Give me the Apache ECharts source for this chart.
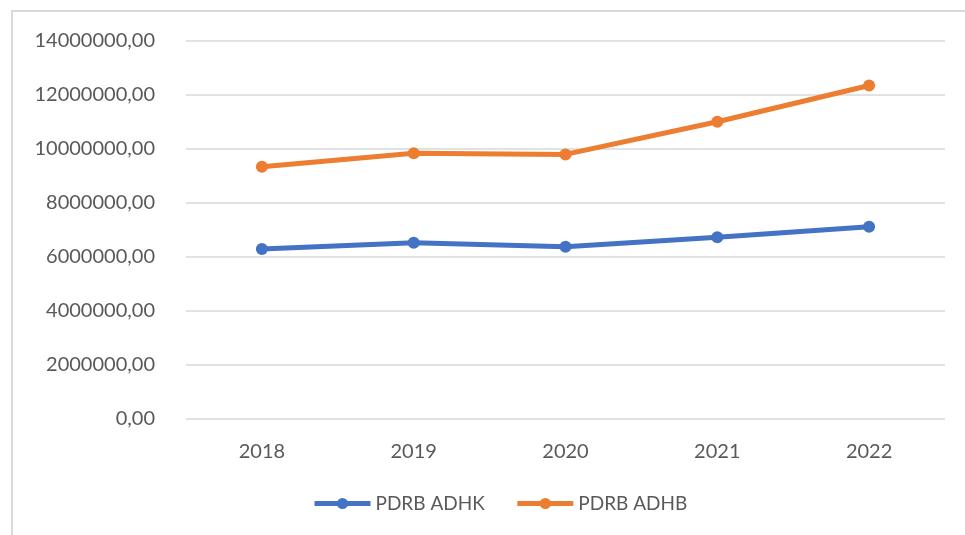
<!DOCTYPE html>
<html>
<head>
<meta charset="utf-8">
<script src="https://cdn.jsdelivr.net/npm/echarts@6/dist/echarts.min.js"></script>
<style>
  html, body { margin: 0; padding: 0; background: #ffffff; }
  #main { width: 965px; height: 535px; }
</style>
</head>
<body>
<div id="main"></div>
<script>
// data
var years = ["2018", "2019", "2020", "2021", "2022"];
var adhk = [6300000, 6530000, 6380000, 6730000, 7120000];
var adhb = [9340000, 9840000, 9800000, 11010000, 12350000];

var chart = echarts.init(document.getElementById("main"));
var font = "Lato, 'Open Sans', sans-serif";

var option = {
  animation: false,
  graphic: [{
    type: "rect",
    shape: { x: 12, y: 11, width: 1000, height: 600 },
    style: { fill: "none", stroke: "#d9d9d9", lineWidth: 2 }
  }],
  grid: { left: 186, right: 20, top: 41, bottom: 116 },
  legend: {
    bottom: 17,
    left: 307,
    itemWidth: 56,
    itemHeight: 14,
    itemGap: 30,
    lineStyle: { width: 5 },
    textStyle: { color: "#595959", fontSize: 19, fontFamily: font },
    data: ["PDRB ADHK", "PDRB ADHB"]
  },
  xAxis: {
    type: "category",
    data: years,
    axisLine: { show: false },
    axisTick: { show: false },
    axisLabel: { color: "#595959", fontSize: 20, margin: 23, fontFamily: font }
  },
  yAxis: {
    type: "value",
    min: 0,
    max: 14000000,
    interval: 2000000,
    axisLine: { show: false },
    axisTick: { show: false },
    splitLine: { lineStyle: { color: "#d9d9d9", width: 1.5 } },
    axisLabel: {
      color: "#595959",
      fontSize: 20,
      margin: 31,
      fontFamily: font,
      formatter: function (v) { return v.toFixed(2).replace(".", ","); }
    }
  },
  series: [
    {
      name: "PDRB ADHK",
      type: "line",
      data: adhk,
      symbol: "circle",
      symbolSize: 12,
      color: "#4472c4",
      lineStyle: { width: 5 }
    },
    {
      name: "PDRB ADHB",
      type: "line",
      data: adhb,
      symbol: "circle",
      symbolSize: 12,
      color: "#ed7d31",
      lineStyle: { width: 5 }
    }
  ]
};

chart.setOption(option);
</script>
</body>
</html>
